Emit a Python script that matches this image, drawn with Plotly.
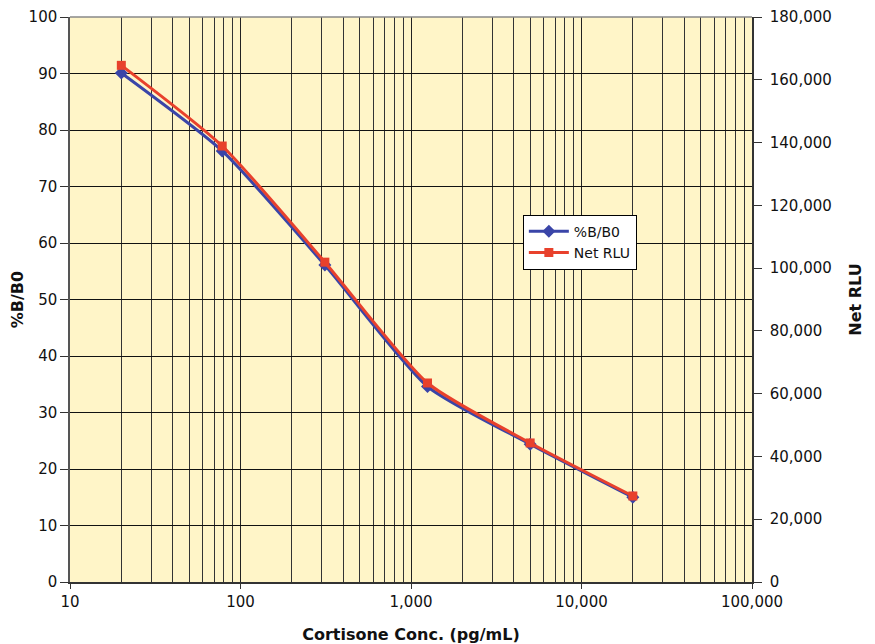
import plotly.graph_objects as go

conc = [20, 78.125, 312.5, 1250, 5000, 20000]
pct_b_b0 = [90.1, 76.3, 56.1, 34.6, 24.4, 15.0]
net_rlu = [164600, 138900, 101900, 63400, 44300, 27400]

x_tickvals = [10, 100, 1000, 10000, 100000]
x_ticktext = ["10", "100", "1,000", "10,000", "100,000"]
minor_vals = [m * d for d in [10, 100, 1000, 10000] for m in range(2, 10)]

y2_tickvals = list(range(0, 180001, 20000))
y2_ticktext = [f"{v:,}" for v in y2_tickvals]

FONT = "DejaVu Sans"
blue = "#3A45A8"
red = "#E8412C"

fig = go.Figure()
fig.add_trace(go.Scatter(
    x=conc, y=pct_b_b0, name="%B/B0", mode="lines+markers",
    line=dict(color=blue, width=3, shape="spline", smoothing=0.6),
    marker=dict(symbol="diamond", size=10, color=blue),
))
fig.add_trace(go.Scatter(
    x=conc, y=net_rlu, name="Net RLU", mode="lines+markers", yaxis="y2",
    line=dict(color=red, width=3, shape="spline", smoothing=0.6),
    marker=dict(symbol="square", size=9, color=red),
))

fig.update_layout(
    width=875, height=644,
    margin=dict(l=62, r=131, t=9, b=70, autoexpand=False),
    paper_bgcolor="white",
    plot_bgcolor="#FFF5C8",
    font=dict(family=FONT, size=15, color="#111"),
    showlegend=True,
    legend=dict(x=0.664, y=0.65, xanchor="left", yanchor="top",
                bgcolor="white", bordercolor="black", borderwidth=1,
                font=dict(family=FONT, size=14, color="#111"),
                tracegroupgap=0, itemwidth=40),
    xaxis=dict(
        type="log", range=[1, 5], automargin=False,
        tickmode="array", tickvals=x_tickvals, ticktext=x_ticktext,
        showgrid=True, gridcolor="#222", gridwidth=1,
        minor=dict(tickmode="array", tickvals=minor_vals, showgrid=True,
                   gridcolor="#333", gridwidth=1, ticklen=0),
        ticks="outside", ticklen=5, tickcolor="#333",
        showline=True, linecolor="#333", linewidth=1.5, mirror=False,
        title=dict(text="<b>Cortisone Conc. (pg/mL)</b>", font=dict(size=16), standoff=19),
        zeroline=False,
    ),
    yaxis=dict(
        range=[0, 100], dtick=10, automargin=False,
        showgrid=True, gridcolor="#111", gridwidth=1,
        ticks="outside", ticklen=8, tickcolor="#333",
        showline=True, linecolor="#555", linewidth=1.5, mirror=False,
        title=dict(text="<b>%B/B0</b>", font=dict(size=16), standoff=8),
        zeroline=False,
    ),
    yaxis2=dict(
        range=[0, 180000], overlaying="y", side="right", automargin=False,
        tickmode="array", tickvals=y2_tickvals, ticktext=y2_ticktext,
        showgrid=False, ticklabelstandoff=5,
        ticks="outside", ticklen=8, tickcolor="#333",
        showline=True, linecolor="#333", linewidth=1.5,
        title=dict(text="<b>Net RLU</b>", font=dict(size=16), standoff=19),
        zeroline=False,
    ),
)
fig.add_shape(type="line", xref="paper", yref="paper", x0=0, x1=1, y0=1, y1=1,
              line=dict(color="#888", width=1.5))

fig.write_html("out.html")
